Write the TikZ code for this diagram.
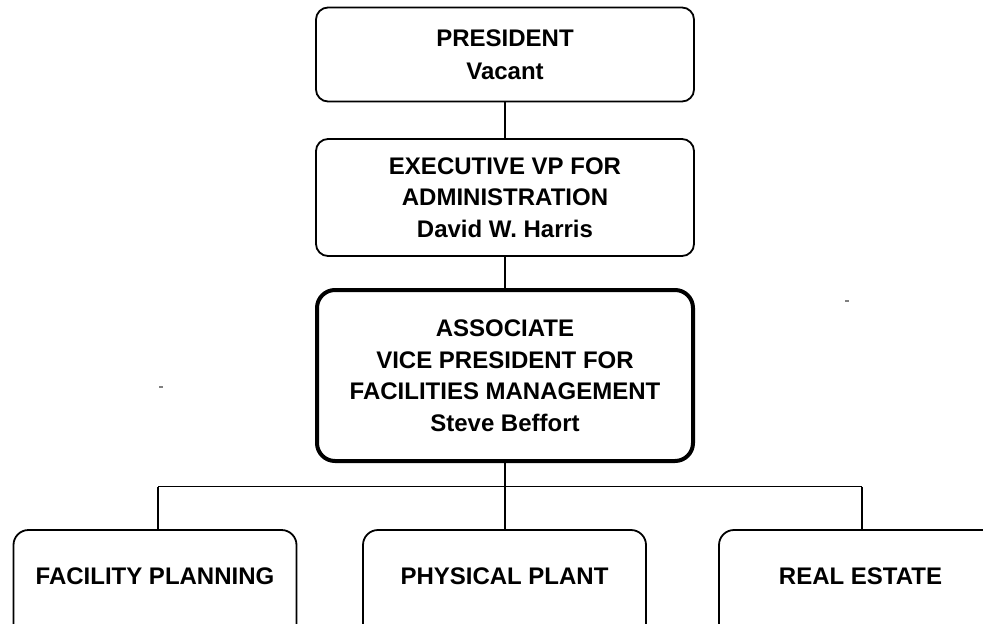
\documentclass[tikz,border=0pt]{standalone}
\usepackage{fontspec}
\setmainfont{Liberation Sans}
\begin{document}
\begin{tikzpicture}[x=1pt,y=-1pt,
  txt/.style={font=\bfseries\fontsize{24}{31.5}\selectfont, align=center, inner sep=0pt},
  box/.style={draw, line width=1.8pt, rounded corners=12pt, minimum width=378pt, txt},
  bigbox/.style={draw, line width=4pt, rounded corners=18pt, minimum width=376pt, txt},
  leaf/.style={draw, line width=1.8pt, rounded corners=15pt, minimum width=283pt, minimum height=140pt, inner sep=0pt},
  conn/.style={line width=1.8pt},
  speck/.style={line width=2pt, draw=gray}]
\useasboundingbox (0,0) rectangle (983,624);
\clip (0,0) rectangle (983,624);
\node[box, minimum height=94pt] (pres) at (505,54.5) {PRESIDENT\\[2pt]Vacant};
\node[box, minimum height=117pt] (exec) at (505,197.5) {EXECUTIVE VP FOR\\ADMINISTRATION\\David W. Harris};
\node[bigbox, minimum height=171pt] (assoc) at (505,375.5) {ASSOCIATE\\VICE PRESIDENT FOR\\FACILITIES MANAGEMENT\\Steve Beffort};
\node[leaf] (fp) at (155,600) {};
\node[leaf] (pp) at (504.5,600) {};
\node[leaf] (re) at (860.5,600) {};
\node[txt] (fpt) at (155,576) {FACILITY PLANNING};
\node[txt] (ppt) at (504.5,576) {PHYSICAL PLANT};
\node[txt] (ret) at (860.5,576) {REAL ESTATE};
\coordinate (hl) at (158,486.5);
\coordinate (hr) at (862,486.5);
\coordinate (hm) at (505,486.5);
\draw[conn] (pres.south) -- (exec.north);
\draw[conn] (exec.south) -- (assoc.north);
\draw[conn] (assoc.south) -- (hm) -- (hm |- pp.north);
\draw[conn] (hl) -- (hr);
\draw[conn] (hl) -- (hl |- fp.north);
\draw[conn] (hr) -- (hr |- re.north);
\draw[speck] (845,300.7) -- (849,300.7);
\draw[speck] (159,387) -- (163,387);
\end{tikzpicture}
\end{document}
